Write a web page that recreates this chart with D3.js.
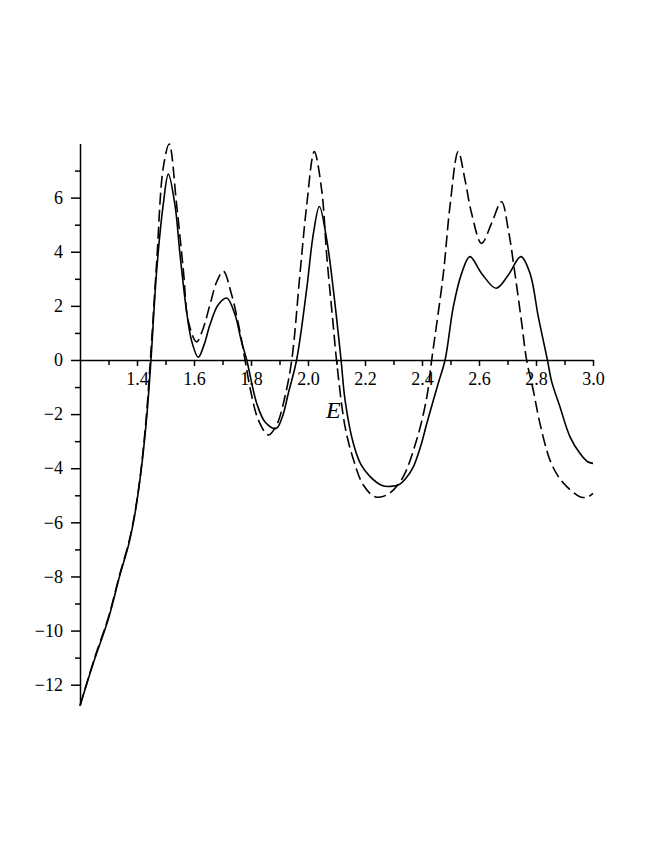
<!DOCTYPE html>
<html>
<head>
<meta charset="utf-8">
<script src="https://cdn.jsdelivr.net/npm/d3@7"></script>
<style>
  body { margin: 0; background: #fff; }
  svg { display: block; }
</style>
</head>
<body>
<div id="chart"></div>
<script>
// data
var solidE = [1.20, 1.25, 1.30, 1.34, 1.37, 1.39, 1.405, 1.42, 1.435, 1.449,
              1.469, 1.492, 1.51, 1.533, 1.551, 1.574, 1.592, 1.615, 1.635, 1.656,
              1.685, 1.715, 1.744, 1.765, 1.785, 1.82, 1.85, 1.888, 1.91, 1.931,
              1.96, 1.995, 2.019, 2.04, 2.066, 2.089, 2.116, 2.13, 2.159, 2.185,
              2.218, 2.26, 2.29, 2.32, 2.345, 2.37, 2.395, 2.417, 2.457, 2.481,
              2.51, 2.539, 2.568, 2.609, 2.66, 2.703, 2.747, 2.779, 2.808, 2.84,
              2.855, 2.884, 2.919, 2.954, 2.98, 3.0];
var solidV = [-12.78, -11.1, -9.55, -7.95, -6.85, -5.85, -4.85, -3.6, -2.0, 0,
              3.3, 5.74, 6.87, 5.74, 3.89, 1.8, 0.69, 0.1, 0.55, 1.3,
              2.04, 2.29, 1.67, 0.75, 0, -1.6, -2.3, -2.53, -2.1, -1.23,
              0, 2.59, 4.68, 5.67, 4.43, 2.59, 0, -1.48, -3.08, -3.85,
              -4.31, -4.64, -4.67, -4.6, -4.35, -3.94, -3.2, -2.34, -0.86, 0,
              1.97, 3.2, 3.82, 3.2, 2.65, 3.14, 3.82, 3.2, 1.6, 0,
              -0.8, -1.73, -2.83, -3.45, -3.75, -3.82];

var dashE = [1.20, 1.25, 1.30, 1.34, 1.37, 1.39, 1.405, 1.42, 1.435, 1.447,
             1.469, 1.492, 1.513, 1.539, 1.563, 1.58, 1.609, 1.63, 1.656, 1.68,
             1.703, 1.732, 1.761, 1.779, 1.80, 1.826, 1.861, 1.89, 1.919, 1.943,
             1.972, 1.995, 2.022, 2.048, 2.066, 2.089, 2.10, 2.13, 2.16, 2.194,
             2.235, 2.276, 2.328, 2.381, 2.417, 2.434, 2.475, 2.498, 2.527, 2.551,
             2.574, 2.609, 2.644, 2.679, 2.703, 2.726, 2.75, 2.767, 2.79, 2.814,
             2.849, 2.878, 2.908, 2.954, 2.98, 3.0];
var dashV = [-12.78, -11.05, -9.5, -7.9, -6.8, -5.8, -4.8, -3.5, -1.8, 0,
             3.6, 7.1, 7.98, 5.74, 3.28, 1.43, 0.67, 1.1, 2.04, 2.9,
             3.28, 2.41, 1.06, 0, -1.2, -2.22, -2.77, -2.4, -1.36, 0,
             3.2, 5.67, 7.70, 6.28, 3.82, 1.23, 0, -2.46, -3.7, -4.62,
             -5.05, -4.99, -4.43, -2.96, -1.36, 0, 3.2, 5.67, 7.70, 6.65,
             5.42, 4.31, 5.05, 5.85, 4.8, 3.2, 1.35, 0, -1.1, -2.35,
             -3.7, -4.3, -4.68, -5.05, -5.07, -4.93];

var xMajor = [1.4, 1.6, 1.8, 2.0, 2.2, 2.4, 2.6, 2.8, 3.0];
var xMinor = [1.3, 1.5, 1.7, 1.9, 2.1, 2.3, 2.5, 2.7, 2.9];
var yMajor = [-12, -10, -8, -6, -4, -2, 0, 2, 4, 6];
var yMinor = [-11, -9, -7, -5, -3, -1, 1, 3, 5, 7];

var w = 654, h = 846;
var serif = "'Liberation Serif', 'DejaVu Serif', serif";

var svg = d3.select("#chart")
            .append("svg")
            .attr("width", w)
            .attr("height", h);

// scales
var xScale = d3.scaleLinear().domain([1.2, 3.0]).range([80, 593]);
var yScale = d3.scaleLinear().domain([-12.75, 8]).range([705, 143.5]);

// x axis on the zero line
svg.append("g")
   .attr("transform", "translate(0," + yScale(0) + ")")
   .call(d3.axisBottom(xScale)
           .tickValues(xMajor)
           .tickSizeInner(6)
           .tickSizeOuter(0)
           .tickPadding(6)
           .tickFormat(d3.format(".1f")))
   .attr("font-family", serif)
   .attr("font-size", 18);

svg.append("g")
   .attr("transform", "translate(0," + yScale(0) + ")")
   .call(d3.axisBottom(xScale)
           .tickValues(xMinor)
           .tickSizeInner(5)
           .tickSizeOuter(0)
           .tickFormat(""))
   .select(".domain").remove();

// y axis at E = 1.2
svg.append("g")
   .attr("transform", "translate(" + xScale(1.2) + ",0)")
   .call(d3.axisLeft(yScale)
           .tickValues(yMajor)
           .tickSizeInner(9)
           .tickSizeOuter(0)
           .tickPadding(8)
           .tickFormat(function(d) { return d < 0 ? "\u2212" + Math.abs(d) : d; }))
   .attr("font-family", serif)
   .attr("font-size", 18);

svg.append("g")
   .attr("transform", "translate(" + xScale(1.2) + ",0)")
   .call(d3.axisLeft(yScale)
           .tickValues(yMinor)
           .tickSizeInner(5)
           .tickSizeOuter(0)
           .tickFormat(""))
   .select(".domain").remove();

svg.selectAll(".domain, .tick line")
   .attr("stroke", "#000")
   .attr("stroke-width", 1.5);
svg.selectAll(".tick text").attr("fill", "#000");

// axis title
svg.append("text")
   .attr("x", 326)
   .attr("y", 418)
   .style("font-family", serif)
   .style("font-style", "italic")
   .style("font-size", "24px")
   .text("E");

// curves
var line = d3.line()
             .x((d) => xScale(d[0]))
             .y((d) => yScale(d[1]))
             .curve(d3.curveCatmullRom.alpha(0.5));

var solid = solidE.map((e, i) => [e, solidV[i]]);
var dashed = dashE.map((e, i) => [e, dashV[i]]);

svg.append("path")
   .datum(dashed)
   .attr("d", line)
   .attr("fill", "none")
   .attr("stroke", "#000")
   .attr("stroke-width", 1.6)
   .attr("stroke-dasharray", "12,5");

svg.append("path")
   .datum(solid)
   .attr("d", line)
   .attr("fill", "none")
   .attr("stroke", "#000")
   .attr("stroke-width", 1.6);
</script>
</body>
</html>
